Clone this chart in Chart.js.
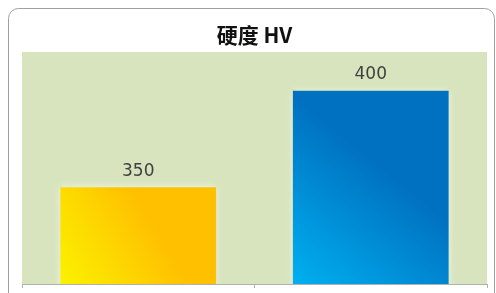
<!DOCTYPE html>
<html>
<head>
<meta charset="utf-8">
<script src="https://cdn.jsdelivr.net/npm/chart.js@4/dist/chart.umd.min.js"></script>
<style>
html,body{margin:0;padding:0;background:#fff;}
#wrap{width:496px;height:293px;}
</style>
</head>
<body>
<div id="wrap"><canvas id="hv"></canvas></div>
<script>
// ===== DATOS =====
const labels=["A","B"];
const hardness=[350,400];
const titulo="硬度 HV";
const yMin=300, yMax=420;

// ===== COLORES =====
const grad=[["#fbf200","#ffc000"],["#00b0f0","#0070c0"]];
const barPct=0.67;

function barFill(c){
 const ch=c.chart;
 if(!ch.chartArea) return grad[c.dataIndex%2][1];
 const x=ch.scales.x, y=ch.scales.y;
 const cx=x.getPixelForValue(c.dataIndex);
 const half=x.width/labels.length*barPct/2;
 const top=y.getPixelForValue(hardness[c.dataIndex]);
 const g=ch.ctx.createLinearGradient(cx-half,y.bottom,cx+half,top);
 g.addColorStop(0,grad[c.dataIndex%2][0]);
 g.addColorStop(0.6,grad[c.dataIndex%2][1]);
 g.addColorStop(1,grad[c.dataIndex%2][1]);
 return g;
}

// ===== PLUGINS =====
const fondo={
 id:"fondo",
 beforeDraw(ch){
  const c=ch.ctx, a=ch.chartArea;
  c.save();
  c.fillStyle="#fff";
  c.fillRect(0,0,ch.width,ch.height);
  c.strokeStyle="#a0a0a0";
  c.lineWidth=1;
  c.beginPath();
  c.roundRect(8.5,8.5,486,310,10);
  c.stroke();
  c.fillStyle="#d7e4bd";
  c.fillRect(a.left,a.top,a.right-a.left,a.bottom-a.top);
  c.restore();
 }
};

const brillo={
 id:"brillo",
 beforeDatasetDraw(ch){
  ch.ctx.save();
  ch.ctx.shadowColor="rgba(255,255,255,0.7)";
  ch.ctx.shadowBlur=7;
 },
 afterDatasetDraw(ch){ ch.ctx.restore(); }
};

const etiquetas={
 id:"etiquetas",
 afterDatasetsDraw(ch){
  const c=ch.ctx;
  const meta=ch.getDatasetMeta(0);
  c.save();
  c.font="17px 'DejaVu Sans'";
  c.fillStyle="#404040";
  c.textAlign="center";
  c.textBaseline="middle";
  meta.data.forEach((b,i)=>{
   c.fillText(String(hardness[i]),b.x,b.y-16);
  });
  c.restore();
 }
};

// ===== GRAFICO =====
new Chart(document.getElementById("hv"),{
 type:"bar",
 data:{labels:labels,datasets:[{
  data:hardness,
  backgroundColor:barFill,
  borderWidth:0,
  barPercentage:barPct,
  categoryPercentage:1
 }]},
 options:{
  responsive:true,
  maintainAspectRatio:false,
  animation:false,
  layout:{padding:{left:22,right:9,top:0,bottom:5}},
  plugins:{
   legend:{display:false},
   tooltip:{enabled:false},
   title:{
    display:true,
    text:titulo,
    color:"#111",
    font:{family:"'Noto Sans CJK SC'",size:21,weight:"bold",lineHeight:1.2},
    padding:{top:22.4,bottom:4.4}
   }
  },
  scales:{
   x:{
    ticks:{display:false},
    grid:{drawOnChartArea:false,drawTicks:true,tickLength:4,color:"#b0b0b0"},
    border:{color:"#b0b0b0"}
   },
   y:{display:false,min:yMin,max:yMax}
  }
 },
 plugins:[fondo,brillo,etiquetas]
});
</script>
</body>
</html>
